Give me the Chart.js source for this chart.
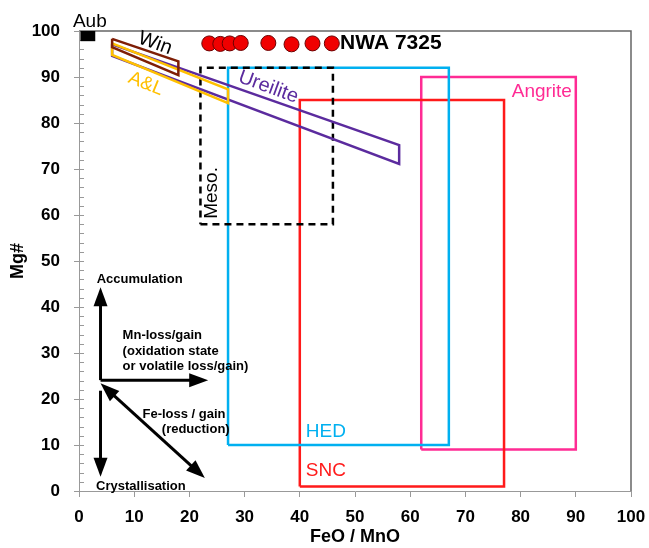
<!DOCTYPE html>
<html>
<head>
<meta charset="utf-8">
<script src="https://cdn.jsdelivr.net/npm/chart.js@4.4.1/dist/chart.umd.min.js"></script>
<style>
  html, body { margin: 0; padding: 0; background: #fff; }
  #wrap { width: 649px; height: 548px; }
</style>
</head>
<body>
<div id="wrap"><canvas id="chart"></canvas></div>
<script>
// field outlines (FeO/MnO vs Mg#), closed polygons
const hedFeOMnO = [27, 67, 67, 27, 27];
const hedMg = [10, 10, 92, 92, 10];
const sncFeOMnO = [40, 77, 77, 40, 40];
const sncMg = [1, 1, 85, 85, 1];
const angriteFeOMnO = [62, 90, 90, 62, 62];
const angriteMg = [9, 9, 90, 90, 9];
const mesoFeOMnO = [22, 46, 46, 22, 22];
const mesoMg = [58, 58, 92, 92, 58];
const ureiliteFeOMnO = [6, 58, 58, 6, 6];
const ureiliteMg = [97.1, 75.2, 71.1, 94.6, 97.1];
const alFeOMnO = [6, 27, 27, 6, 6];
const alMg = [97.3, 87.3, 84.3, 94.8, 97.3];
const winFeOMnO = [6, 18, 18, 6, 6];
const winMg = [98.3, 93.4, 90.4, 96.5, 98.3];

// NWA 7325 analyses and aubrite
const nwaFeOMnO = [23.6, 25.6, 27.3, 29.3, 34.3, 38.5, 42.3, 45.8];
const nwaMg = [97.3, 97.2, 97.3, 97.4, 97.4, 97.1, 97.3, 97.3];
const aubFeOMnO = [1.6];
const aubMg = [99.4];

// process arrows, start -> end
const accumFeOMnO = [3.9, 3.9], accumMg = [24.1, 44.3];
const mnFeOMnO = [3.9, 23.4], mnMg = [24.1, 24.1];
const crystFeOMnO = [3.9, 3.9], crystMg = [21.8, 3.1];
const feFeOMnO = [3.9, 22.8], feMg = [23.4, 2.8];

const xTicks = [0, 10, 20, 30, 40, 50, 60, 70, 80, 90, 100];

const pts = (xs, ys) => xs.map((v, i) => ({ x: v, y: ys[i] }));

function outline(label, xs, ys, color, order, extra) {
  return Object.assign({
    label, data: pts(xs, ys), showLine: true, tension: 0, fill: false,
    borderColor: color, borderWidth: 2.5, pointRadius: 0, order
  }, extra || {});
}
function arrow(xs, ys, both) {
  return { label: 'arrow', data: pts(xs, ys), showLine: false, pointRadius: 0, arrow: { start: !!both }, order: 1 };
}

const LABEL = '19px "Liberation Sans", Arial, sans-serif';
const NOTE = 'bold 13px "Liberation Sans", Arial, sans-serif';
const notes = [
  { text: 'Aub', x: -1.1, y: 102, font: LABEL, color: '#000', align: 'left' },
  { text: 'Win', x: 13.8, y: 97.3, font: '20px "Liberation Sans", Arial, sans-serif', color: '#000', rot: 20 },
  { text: 'A&L', x: 12.1, y: 88.5, font: LABEL, color: '#FFC000', rot: 22 },
  { text: 'Ureilite', x: 34.3, y: 87.8, font: '20px "Liberation Sans", Arial, sans-serif', color: '#5B2B9E', rot: 20 },
  { text: 'Meso.', x: 24.1, y: 64.8, font: LABEL, color: '#000', rot: -90 },
  { text: 'HED', x: 41.1, y: 12.8, font: LABEL, color: '#00B0F0', align: 'left' },
  { text: 'SNC', x: 41.1, y: 4.3, font: LABEL, color: '#FF1A1A', align: 'left' },
  { text: 'Angrite', x: 89.3, y: 86.7, font: LABEL, color: '#FF2B94', align: 'right' },
  { text: 'NWA 7325', x: 47.3, y: 97.4, font: 'bold 21px "Liberation Sans", Arial, sans-serif', color: '#000', align: 'left' },
  { text: 'Accumulation', x: 3.2, y: 45.9, font: NOTE, color: '#000', align: 'left' },
  { text: 'Mn-loss/gain', x: 7.9, y: 33.9, font: NOTE, color: '#000', align: 'left' },
  { text: '(oxidation state', x: 7.9, y: 30.4, font: NOTE, color: '#000', align: 'left' },
  { text: 'or volatile loss/gain)', x: 7.9, y: 27, font: NOTE, color: '#000', align: 'left' },
  { text: 'Fe-loss / gain', x: 11.5, y: 16.7, font: NOTE, color: '#000', align: 'left' },
  { text: '(reduction)', x: 15, y: 13.3, font: NOTE, color: '#000', align: 'left' },
  { text: 'Crystallisation', x: 3.1, y: 1.1, font: NOTE, color: '#000', align: 'left' }
];

function head(ctx, from, to) {
  const ang = Math.atan2(to.y - from.y, to.x - from.x);
  ctx.save();
  ctx.translate(to.x, to.y);
  ctx.rotate(ang);
  ctx.beginPath();
  ctx.moveTo(0, 0);
  ctx.lineTo(-19, -7);
  ctx.lineTo(-19, 7);
  ctx.closePath();
  ctx.fill();
  ctx.restore();
}

const frame = {
  id: 'frame',
  beforeDatasetsDraw(chart) {
    const { ctx, chartArea: a, scales: { y } } = chart;
    ctx.save();
    ctx.strokeStyle = '#666';
    ctx.lineWidth = 1.5;
    ctx.beginPath();
    ctx.moveTo(a.left, a.top);
    ctx.lineTo(a.right, a.top);
    ctx.lineTo(a.right, a.bottom);
    ctx.stroke();
    ctx.strokeStyle = '#999';
    ctx.lineWidth = 1;
    y.ticks.forEach(t => {
      const py = Math.round(y.getPixelForValue(t.value)) + 0.5;
      const major = t.value % 10 === 0;
      ctx.beginPath();
      ctx.moveTo(a.left - (major ? 5 : 0), py);
      ctx.lineTo(a.left + 5, py);
      ctx.stroke();
    });
    ctx.restore();
  }
};

const extras = {
  id: 'extras',
  afterDatasetsDraw(chart) {
    const { ctx, scales: { x, y } } = chart;
    ctx.save();
    ctx.fillStyle = '#000';
    ctx.strokeStyle = '#000';
    ctx.lineWidth = 3;
    chart.data.datasets.forEach((ds, i) => {
      if (!ds.arrow) return;
      const p = chart.getDatasetMeta(i).data;
      const a = p[0], b = p[p.length - 1];
      const ang = Math.atan2(b.y - a.y, b.x - a.x);
      const s = ds.arrow.start ? 12 : 0;
      ctx.beginPath();
      ctx.moveTo(a.x + Math.cos(ang) * s, a.y + Math.sin(ang) * s);
      ctx.lineTo(b.x - Math.cos(ang) * 12, b.y - Math.sin(ang) * 12);
      ctx.stroke();
      head(ctx, a, b);
      if (ds.arrow.start) head(ctx, b, a);
    });
    notes.forEach(n => {
      ctx.save();
      ctx.translate(x.getPixelForValue(n.x), y.getPixelForValue(n.y));
      ctx.rotate((n.rot || 0) * Math.PI / 180);
      ctx.font = n.font;
      ctx.fillStyle = n.color;
      ctx.textAlign = n.align || 'center';
      ctx.textBaseline = 'middle';
      ctx.fillText(n.text, 0, 0);
      ctx.restore();
    });
    ctx.restore();
  }
};

const tickFont = { family: '"Liberation Sans", Arial, sans-serif', size: 17, weight: 'bold' };
const titleFont = { family: '"Liberation Sans", Arial, sans-serif', size: 18, weight: 'bold' };

new Chart(document.getElementById('chart'), {
  type: 'scatter',
  data: {
    datasets: [
      { label: 'NWA 7325', data: pts(nwaFeOMnO, nwaMg), pointRadius: 7.5, pointBackgroundColor: '#F00000', pointBorderColor: '#6A0000', pointBorderWidth: 1, order: 0 },
      { label: 'Aub', data: pts(aubFeOMnO, aubMg), pointStyle: 'rect', pointRadius: 10.5, pointBackgroundColor: '#000', pointBorderWidth: 0, clip: 0, order: 0 },
      outline('Win', winFeOMnO, winMg, '#7E1E06', 2),
      outline('A&L', alFeOMnO, alMg, '#FFC000', 3),
      outline('Ureilite', ureiliteFeOMnO, ureiliteMg, '#5B2B9E', 4),
      outline('Meso.', mesoFeOMnO, mesoMg, '#000', 5, { borderDash: [7, 5] }),
      outline('HED', hedFeOMnO, hedMg, '#00B0F0', 6),
      outline('SNC', sncFeOMnO, sncMg, '#FF1A1A', 7),
      outline('Angrite', angriteFeOMnO, angriteMg, '#FF2B94', 8),
      arrow(accumFeOMnO, accumMg),
      arrow(mnFeOMnO, mnMg),
      arrow(crystFeOMnO, crystMg),
      arrow(feFeOMnO, feMg, true)
    ]
  },
  options: {
    responsive: true,
    maintainAspectRatio: false,
    animation: false,
    layout: { padding: { top: 31, right: 18, left: 0, bottom: 0 } },
    plugins: { legend: { display: false }, tooltip: { enabled: false } },
    scales: {
      x: {
        type: 'linear', min: 0, max: 100,
        afterBuildTicks: s => { s.ticks = xTicks.map(v => ({ value: v })); },
        afterFit: s => { s.height = 57; },
        grid: { display: true, drawOnChartArea: false, tickLength: 6, color: '#999' },
        border: { display: true, color: '#999', width: 1 },
        ticks: { color: '#000', font: Object.assign({}, tickFont, { lineHeight: 2 }), padding: 3, maxRotation: 0 },
        title: { display: true, text: 'FeO / MnO', color: '#000', font: titleFont, padding: { top: 0, bottom: 0 } }
      },
      y: {
        type: 'linear', min: 0, max: 100,
        afterFit: s => { s.width = 79; },
        grid: { display: false },
        border: { display: true, color: '#999', width: 1 },
        ticks: {
          stepSize: 2, maxTicksLimit: 51, autoSkip: false, color: '#000', font: tickFont, padding: 11,
          callback: v => (v % 10 === 0 ? v : '')
        },
        title: { display: true, text: 'Mg#', color: '#000', font: titleFont, padding: { top: 7, bottom: 0 } }
      }
    }
  },
  plugins: [frame, extras]
});
</script>
</body>
</html>
